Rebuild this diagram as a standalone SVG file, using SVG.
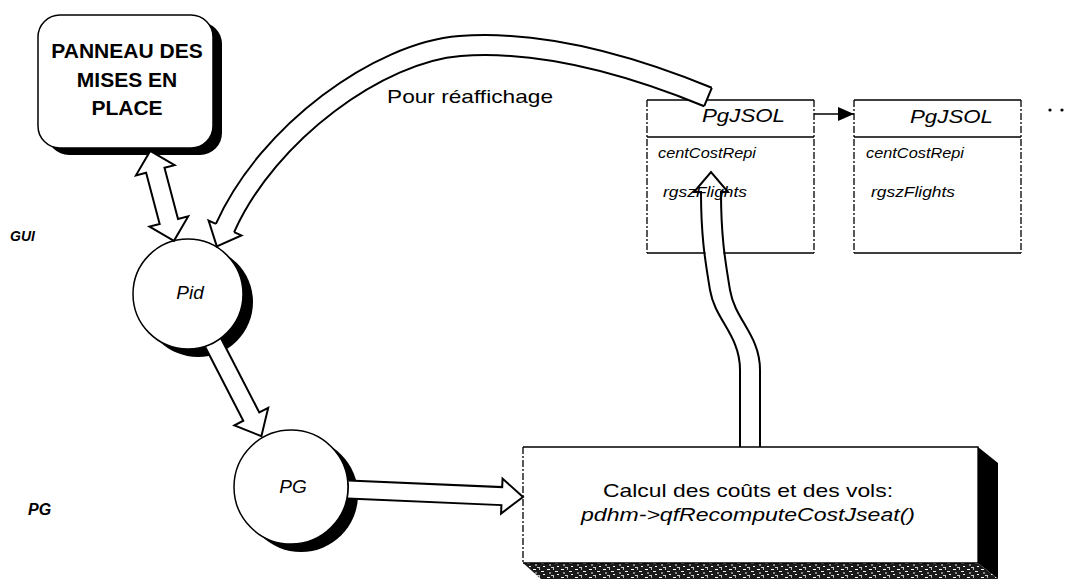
<svg xmlns="http://www.w3.org/2000/svg" width="1072" height="579" viewBox="0 0 1072 579">
<defs>
<style>
.t{font-family:"Liberation Sans",Arial,Helvetica,sans-serif;fill:#000}
.i{font-style:italic}
.b{font-weight:bold}
.ol{fill:none;stroke:#000;stroke-width:2;stroke-linejoin:miter}
.wf{fill:#fff;stroke:none}
.nd{fill:#fff;stroke:#000;stroke-width:1.5}
.sh{fill:#000}
.bx{fill:none;stroke:#000;stroke-width:1.3}
.dash{fill:none;stroke:#000;stroke-width:1.3;stroke-dasharray:7 2 2 2}
</style>
<pattern id="mottle" width="14" height="8" patternUnits="userSpaceOnUse">
<rect width="14" height="8" fill="#1a1a1a"/>
<rect x="1" y="1" width="3" height="1" fill="#fff"/>
<rect x="7" y="0" width="1" height="2" fill="#bbb"/>
<rect x="9" y="3" width="3" height="1" fill="#eee"/>
<rect x="3" y="4" width="2" height="2" fill="#888"/>
<rect x="11" y="6" width="2" height="1" fill="#fff"/>
<rect x="5" y="7" width="3" height="1" fill="#ccc"/>
</pattern>
<marker id="tri" markerWidth="16" markerHeight="14" refX="16" refY="7" orient="auto" markerUnits="userSpaceOnUse">
<path d="M0,0 L16,7 L0,14 Z" fill="#000"/>
</marker>
</defs>
<rect width="1072" height="579" fill="#fff"/>

<g id="lane-labels">
<text class="t i b" x="10" y="241" font-size="14">GUI</text>
<text class="t i b" x="28" y="515" font-size="16">PG</text>
</g>

<g id="panel">
<rect x="47" y="22" width="175" height="133" rx="22" class="sh"/>
<rect x="38" y="15" width="175" height="133" rx="22" class="nd"/>
<text class="t b" font-size="21" text-anchor="middle"><tspan x="127" y="58">PANNEAU DES</tspan><tspan x="127" y="87">MISES EN</tspan><tspan x="127" y="115">PLACE</tspan></text>
</g>

<g id="pid">
<circle cx="198" cy="302" r="55" class="sh"/>
<circle cx="188" cy="294" r="55" class="nd"/>
<text class="t i" x="190" y="299" font-size="19" text-anchor="middle">Pid</text>
</g>

<g id="pg">
<circle cx="301" cy="495" r="57" class="sh"/>
<circle cx="291" cy="487" r="57" class="nd"/>
<text class="t i" x="293" y="493" font-size="19" text-anchor="middle">PG</text>
</g>

<g id="calcul">
<polygon points="978,447 998,463 998,579 978,563" fill="#000"/>
<polygon points="523,563 978,563 998,579 541,579" fill="url(#mottle)"/>
<rect x="523" y="447" width="455" height="116" fill="#fff"/>
<path d="M523,447 H978 V563 H523" class="bx"/>
<path d="M523,447 V563" class="dash"/>
<text class="t" x="603" y="497" font-size="19" textLength="290" lengthAdjust="spacingAndGlyphs">Calcul des coûts et des vols:</text>
<text class="t i" x="581" y="521" font-size="19" textLength="334" lengthAdjust="spacingAndGlyphs">pdhm-&gt;qfRecomputeCostJseat()</text>
</g>

<g id="pgjsol-1">
<rect x="647" y="100" width="167" height="153" fill="#fff"/>
<path d="M647,100 H814 M647,137 H814 M647,253 H814" class="bx"/>
<path d="M647,100 V253 M814,100 V253" class="dash"/>
<text class="t i" x="702" y="122" font-size="19" textLength="83" lengthAdjust="spacingAndGlyphs">PgJSOL</text>
<text class="t i" x="658" y="158" font-size="15" textLength="98" lengthAdjust="spacingAndGlyphs">centCostRepi</text>
<text class="t i" x="663" y="197" font-size="15" textLength="84" lengthAdjust="spacingAndGlyphs">rgszFlights</text>
</g>

<g id="pgjsol-2">
<rect x="854" y="100" width="167" height="153" fill="#fff"/>
<path d="M854,100 H1021 M854,137 H1021 M854,253 H1021" class="bx"/>
<path d="M854,100 V253 M1021,100 V253" class="dash"/>
<text class="t i" x="910" y="123" font-size="19" textLength="83" lengthAdjust="spacingAndGlyphs">PgJSOL</text>
<text class="t i" x="866" y="158" font-size="15" textLength="98" lengthAdjust="spacingAndGlyphs">centCostRepi</text>
<text class="t i" x="871" y="197" font-size="15" textLength="84" lengthAdjust="spacingAndGlyphs">rgszFlights</text>
</g>

<g id="ellipsis">
<circle cx="1050" cy="110" r="1.6" fill="#000"/>
<circle cx="1062" cy="110" r="1.6" fill="#000"/>
</g>

<g id="connectors">
<polygon transform="translate(188,294) rotate(-104.8)" points="55,0 75,-20 75,-9.5 128,-9.5 128,-20 148,0 128,20 128,9.5 75,9.5 75,20" fill="#fff" stroke="#000" stroke-width="2" stroke-linejoin="miter"/>
<g transform="translate(188,294) rotate(62.7)">
<path class="wf" d="M55.3,-9 H138 V-19 L160,0 L138,19 V9 H55.3 A56,56 0 0 0 55.3,-9 Z"/>
<path class="ol" d="M55.3,-9 H138 V-19 L160,0 L138,19 V9 H55.3"/>
</g>
<g transform="translate(291,487) rotate(2.47)">
<path class="wf" d="M57.3,-9 H211 V-17.5 L232.2,0 L211,17.5 V9 H57.3 A58,58 0 0 0 57.3,-9 Z"/>
<path class="ol" d="M57.3,-9 H211 V-17.5 L232.2,0 L211,17.5 V9 H57.3"/>
</g>
<path d="M708,97 C630,65 540,40 460,46 C380,52 268,132 225,228 L223,232.6" fill="none" stroke="#000" stroke-width="22"/>
<path d="M708,97 C630,65 540,40 460,46 C380,52 268,132 225,228 L223,232.6" fill="none" stroke="#fff" stroke-width="18"/>
<path d="M711.8,87.8 L704.2,106.2" class="ol"/>
<polygon class="wf" points="208.6,220.6 216.8,246.3 241.4,235.4"/>
<path class="ol" d="M215.9,223.9 L208.6,220.6 L216.8,246.3 L241.4,235.4 L234.1,232.1"/>
<text class="t" x="387" y="103" font-size="19" textLength="166" lengthAdjust="spacingAndGlyphs">Pour réaffichage</text>
<path d="M705.5,253 H723.3" stroke="#fff" stroke-width="3"/>
<path class="ol" d="M740,447 L740,370 C740,335 715,320 710,290 C706,265 701,240 701,192 H694 L711,172 L728,192 H721 C721,240 726,265 730,290 C735,320 760,335 760,370 L760,447"/>
<line x1="814" y1="114" x2="854" y2="114" stroke="#000" stroke-width="1.5" marker-end="url(#tri)"/>
</g>
</svg>
